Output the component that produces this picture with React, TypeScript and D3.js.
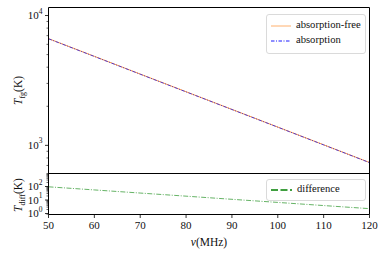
import React from "react";
import * as d3 from "d3";

const freqs = [50, 60, 70, 80, 90, 100, 110, 120];
const tFreeValues = [6637, 4850, 3540, 2588, 1892, 1383, 1010, 738];
const tAbsValues = [6620, 4838, 3532, 2582, 1888, 1380, 1008, 736];
const tDiffValues = [95, 55.8, 32.8, 19.3, 11.3, 6.65, 3.9, 2.3];
const xTicks = [50, 60, 70, 80, 90, 100, 110, 120];
const topMajor = [1000, 10000];
const botMajor = [1, 10, 100];

const W = 379, H = 253;
const L = 48.5, R = 369.5;
const TOP_T = 7.5, MID = 173.5, BOT_B = 214.5;
const FONT = "'Times New Roman', 'Liberation Serif', serif";

function minorTicks(lo: number, hi: number) {
  const out: number[] = [];
  for (let e = -2; e <= 5; e++) {
    for (let m = 2; m <= 9; m++) {
      const v = m * Math.pow(10, e);
      if (v >= lo && v <= hi) out.push(v);
    }
  }
  return out;
}

function Pow({ x, y, exp }: { x: number; y: number; exp: number }) {
  return (
    <text x={x} y={y} textAnchor="end" style={{ fontFamily: FONT }} fontSize={11} dominantBaseline="middle" fill="#111">
      10
      <tspan dy={-5} fontSize={7.5}>{exp}</tspan>
    </text>
  );
}

export default function App() {
  const x = d3.scaleLinear().domain([50, 120]).range([L, R]);
  const yTop = d3.scaleLog().domain([607, 11530]).range([MID, TOP_T]);
  const yBot = d3.scaleLog().domain([0.85, 915]).range([BOT_B, MID]);

  const lineTop = (vals: number[]) =>
    d3.line<number>().x((_, i) => x(freqs[i])).y((d) => yTop(d))(vals) || "";
  const lineBot = d3.line<number>().x((_, i) => x(freqs[i])).y((d) => yBot(d))(tDiffValues) || "";

  const topMinor = minorTicks(607, 11530);
  const botMinor = minorTicks(0.85, 915);
  const txt = { fontFamily: FONT } as React.CSSProperties;

  return (
    <svg width={W} height={H} style={{ position: "absolute", left: 0, top: 0, background: "#fff" }}>
      {/* lines */}
      <path d={lineTop(tFreeValues)} fill="none" stroke="#ff7f0e" strokeWidth={1} opacity={0.8} />
      <path d={lineTop(tAbsValues)} fill="none" stroke="#0000ff" strokeWidth={0.9} strokeDasharray="3.5,1.5,1,1.5" opacity={0.75} />
      <path d={lineBot} fill="none" stroke="green" strokeWidth={1} strokeDasharray="5,1.5,1,1.5" opacity={0.6} />

      {/* frames */}
      <g stroke="#000" strokeWidth={1} fill="none">
        <line x1={L} x2={R} y1={TOP_T} y2={TOP_T} />
        <line x1={L} x2={R} y1={MID} y2={MID} />
        <line x1={L} x2={R} y1={BOT_B} y2={BOT_B} />
        <line x1={L} x2={L} y1={TOP_T} y2={BOT_B} />
        <line x1={R} x2={R} y1={TOP_T} y2={BOT_B} />
      </g>

      {/* top y ticks */}
      {topMajor.map((v) => (
        <g key={"tm" + v}>
          <line x1={L - 3.5} x2={L} y1={yTop(v)} y2={yTop(v)} stroke="#000" strokeWidth={0.8} />
          <Pow x={L - 6} y={yTop(v) + 1} exp={Math.round(Math.log10(v))} />
        </g>
      ))}
      {topMinor.map((v) => (
        <line key={"tn" + v} x1={L - 2} x2={L} y1={yTop(v)} y2={yTop(v)} stroke="#000" strokeWidth={0.6} />
      ))}

      {/* bottom y ticks */}
      {botMajor.map((v) => (
        <g key={"bm" + v}>
          <line x1={L - 3.5} x2={L} y1={yBot(v)} y2={yBot(v)} stroke="#000" strokeWidth={0.8} />
          <Pow x={L - 6} y={yBot(v) + 1} exp={Math.round(Math.log10(v))} />
        </g>
      ))}
      {botMinor.map((v) => (
        <line key={"bn" + v} x1={L - 2} x2={L} y1={yBot(v)} y2={yBot(v)} stroke="#000" strokeWidth={0.6} />
      ))}

      {/* x ticks */}
      {xTicks.map((v) => (
        <g key={"x" + v}>
          <line x1={x(v)} x2={x(v)} y1={BOT_B} y2={BOT_B + 3.5} stroke="#000" strokeWidth={0.8} />
          <text x={x(v)} y={BOT_B + 12} textAnchor="middle" style={txt} fontSize={11} dominantBaseline="middle" fill="#111">
            {v}
          </text>
        </g>
      ))}

      {/* axis labels */}
      <text x={(L + R) / 2} y={243} textAnchor="middle" style={txt} fontSize={11.5} dominantBaseline="middle" fill="#111">
        <tspan fontStyle="italic">ν</tspan>(MHz)
      </text>
      <text transform={`translate(22,${(TOP_T + MID) / 2}) rotate(-90)`} textAnchor="middle" style={txt} fontSize={11.5} fill="#111">
        <tspan fontStyle="italic">T</tspan>
        <tspan fontSize={8} dy={3}>fg</tspan>
        <tspan dy={-3}>(K)</tspan>
      </text>
      <text transform={`translate(22,${(MID + BOT_B) / 2 + 1}) rotate(-90)`} textAnchor="middle" style={txt} fontSize={11.5} fill="#111">
        <tspan fontStyle="italic">T</tspan>
        <tspan fontSize={8} dy={3}>diff</tspan>
        <tspan dy={-3}>(K)</tspan>
      </text>

      {/* top legend */}
      <rect x={266.5} y={14.5} width={99} height={39} rx={2.5} fill="#fff" fillOpacity={0.8} stroke="#d0d0d0" strokeWidth={0.8} />
      <line x1={271} x2={291} y1={26} y2={26} stroke="#ff7f0e" strokeWidth={1} opacity={0.6} />
      <text x={296} y={26} style={txt} fontSize={10.6} dominantBaseline="middle" fill="#111">absorption-free</text>
      <line x1={271} x2={291} y1={41} y2={41} stroke="#0000ff" strokeWidth={0.9} strokeDasharray="3.5,1.5,1,1.5" />
      <text x={296} y={41} style={txt} fontSize={10.6} dominantBaseline="middle" fill="#111">absorption</text>

      {/* bottom legend */}
      <rect x={266.5} y={179.5} width={99} height={21} rx={2.5} fill="#fff" fillOpacity={0.8} stroke="#d0d0d0" strokeWidth={0.8} />
      <line x1={271} x2={292} y1={190} y2={190} stroke="green" strokeWidth={1.3} strokeDasharray="7,2.5" />
      <text x={297} y={190} style={txt} fontSize={10.6} dominantBaseline="middle" fill="#111">difference</text>
    </svg>
  );
}
